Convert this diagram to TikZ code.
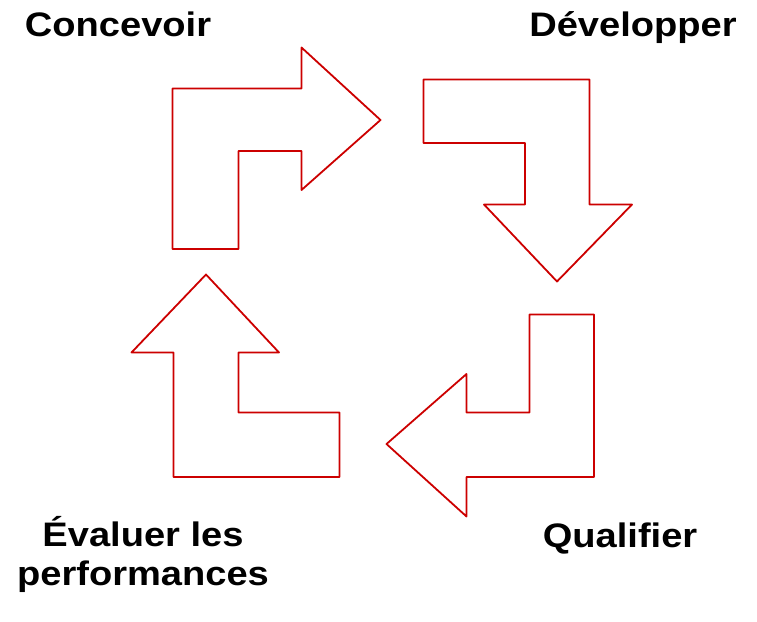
\documentclass[tikz,border=0pt]{standalone}
\usepackage{fontspec}
\setmainfont[FakeStretch=1.12]{Liberation Sans}
\definecolor{arrowred}{RGB}{204,0,0}

\begin{document}
\begin{tikzpicture}[x=1pt, y=-1pt]
    \tikzset{bent arrow/.style={draw=arrowred, line width=1.8pt, line join=round},
             step label/.style={font=\bfseries\fontsize{34}{39}\selectfont, anchor=base, align=center, inner sep=0pt}}
    \useasboundingbox (0,0) rectangle (757,621);
    % the four bent arrows of the cycle
    \draw[bent arrow] (172.5,88.5) -- (301.5,88.5) -- (301.5,47.5) -- (380.5,120) -- (301.5,190) -- (301.5,151) -- (238.5,151) -- (238.5,249) -- (172.5,249) -- cycle;
    \draw[bent arrow] (423.5,79.5) -- (589.5,79.5) -- (589.5,204.5) -- (632,204.5) -- (557,281.5) -- (484,204.5) -- (525,204.5) -- (525,143) -- (423.5,143) -- cycle;
    \draw[bent arrow] (529.5,314.5) -- (594,314.5) -- (594,477) -- (466.5,477) -- (466.5,516.5) -- (386.5,444) -- (466.5,374) -- (466.5,412.5) -- (529.5,412.5) -- cycle;
    \draw[bent arrow] (173.5,477) -- (173.5,352.5) -- (131.5,352.5) -- (206,274.5) -- (279,352.5) -- (238.5,352.5) -- (238.5,412.5) -- (339.5,412.5) -- (339.5,477) -- cycle;
    % step names
    \node[step label] (concevoir) at (118,36.7) {Concevoir};
    \node[step label] (developper) at (633,36.7) {Développer};
    \node[step label] (qualifier) at (620,547) {Qualifier};
    \node[step label] (evaluer) at (143,585) {Évaluer les\\performances};
\end{tikzpicture}
\end{document}
